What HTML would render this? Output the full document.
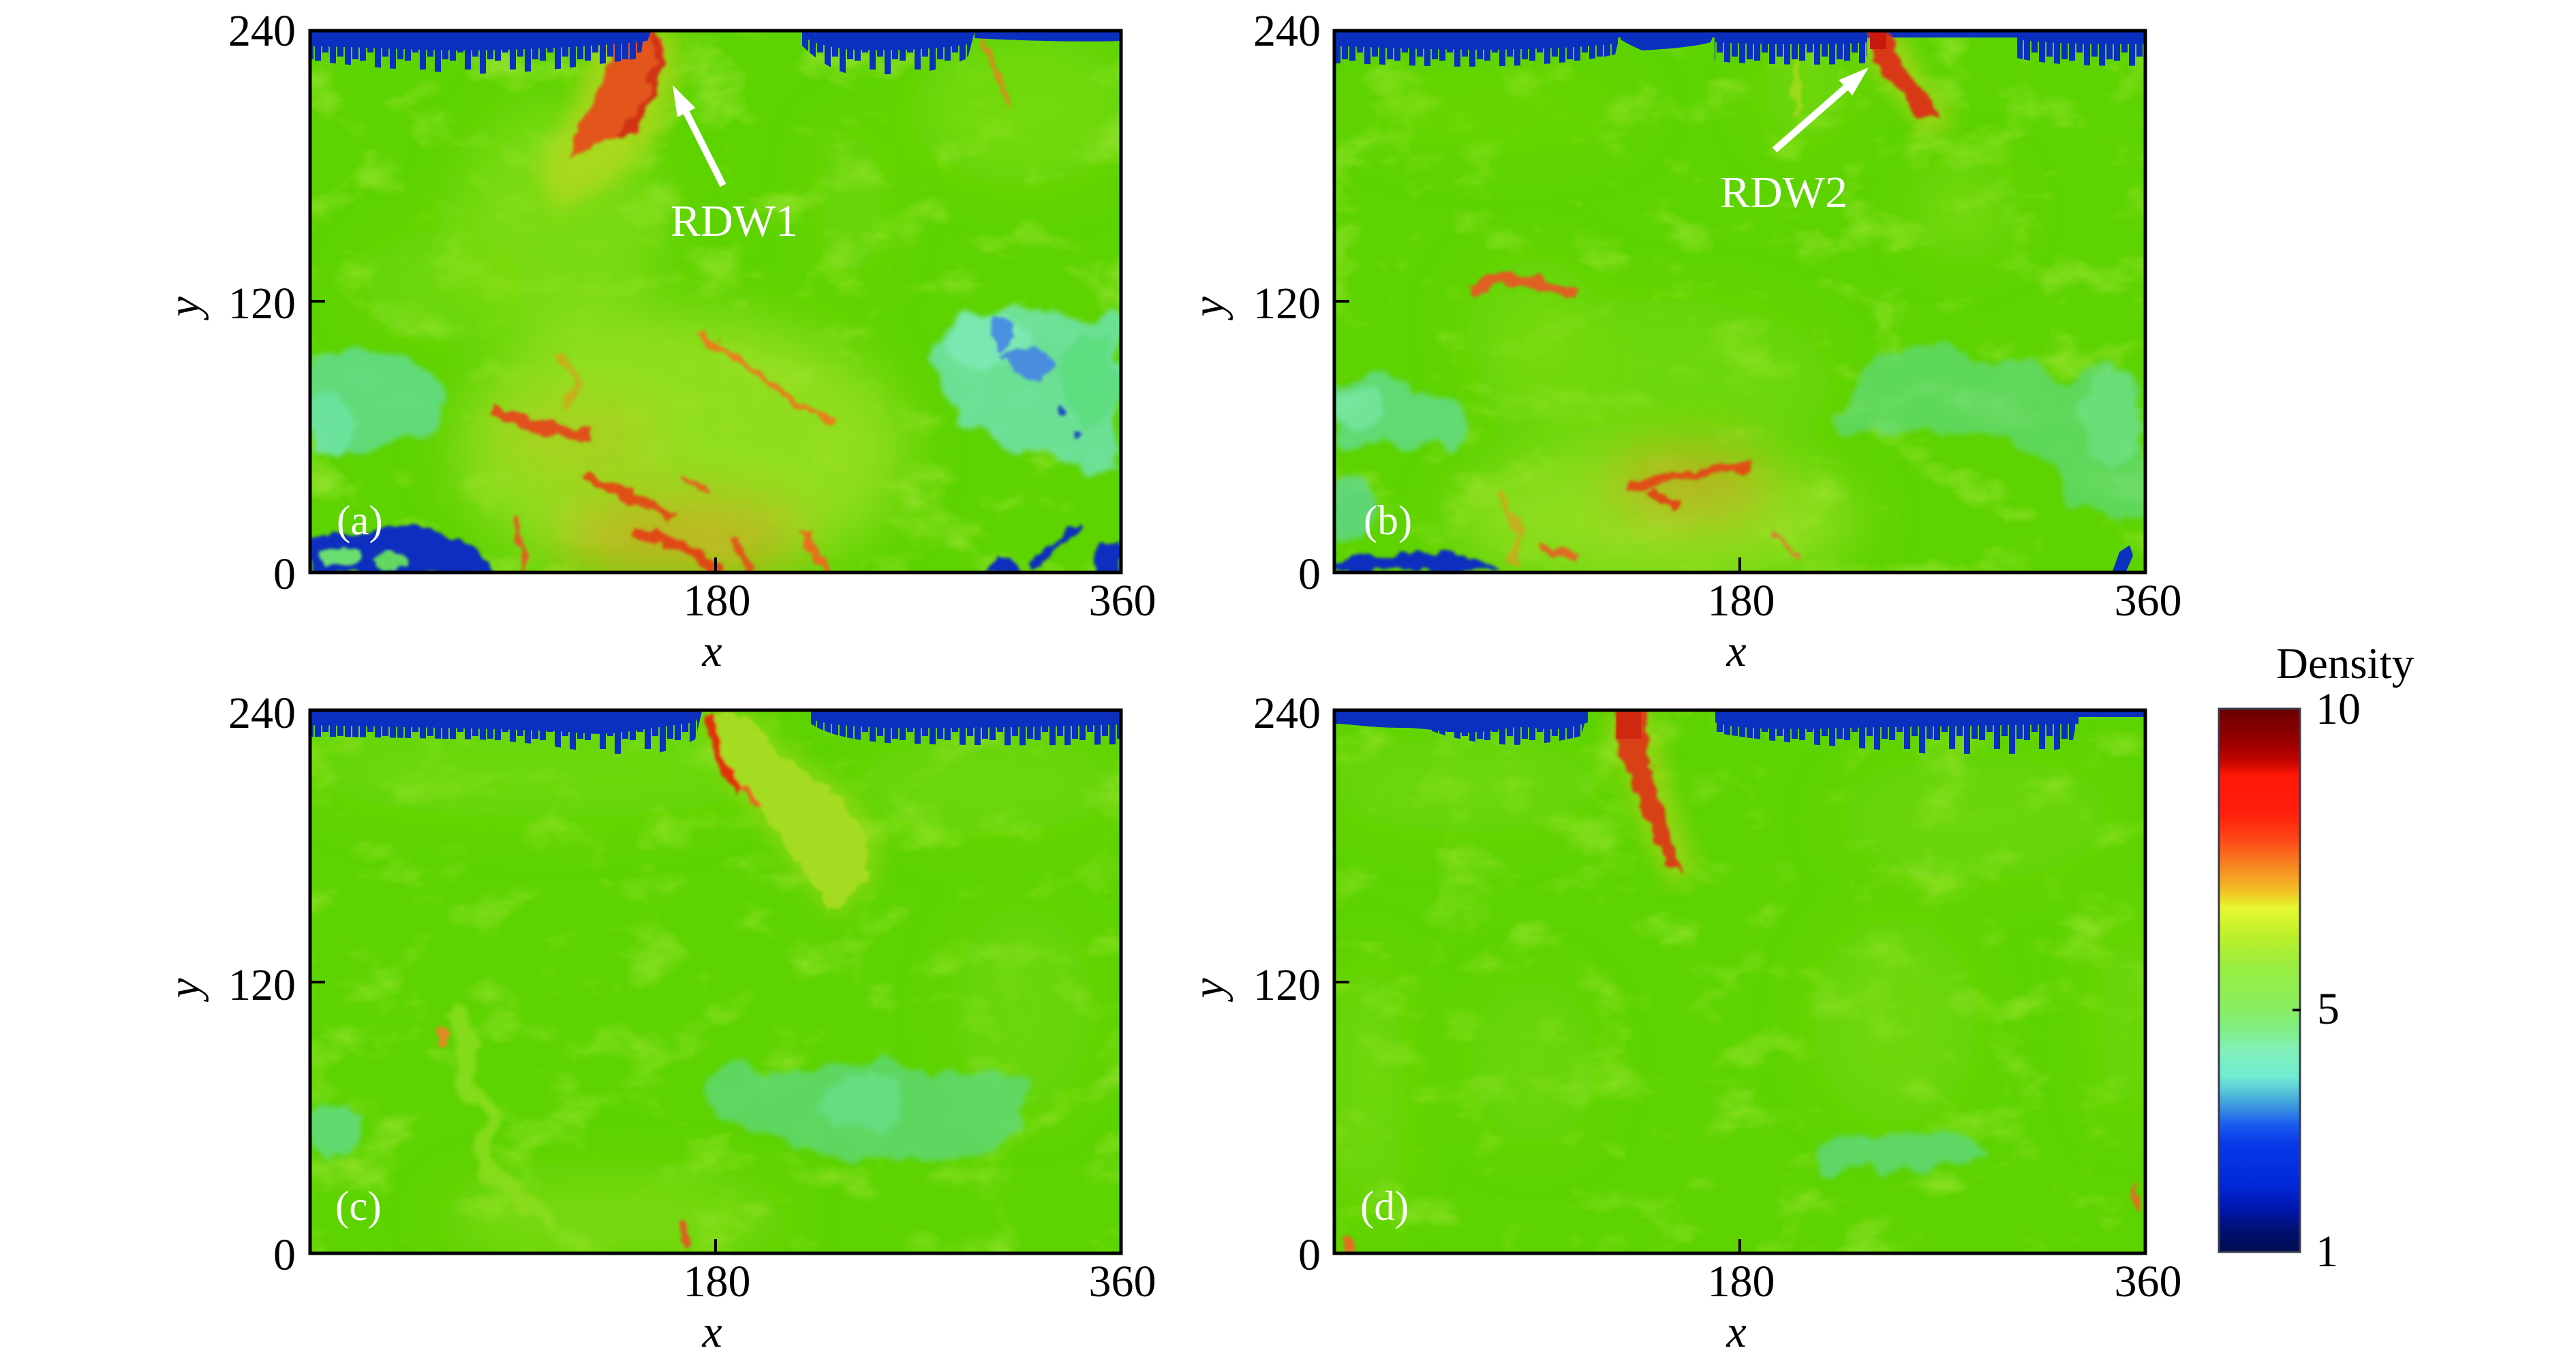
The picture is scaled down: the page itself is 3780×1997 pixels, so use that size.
<!DOCTYPE html>
<html><head><meta charset="utf-8"><title>Density fields</title>
<style>html,body{margin:0;padding:0;background:#fff;}svg{display:block;}</style>
</head><body>
<svg xmlns="http://www.w3.org/2000/svg" width="3780" height="1997" viewBox="0 0 3780 1997" font-family="'Liberation Serif', serif">
<defs>
  <clipPath id="cA"><rect x="457" y="47" width="1186" height="792"/></clipPath>
  <clipPath id="cB"><rect x="1960" y="47" width="1186" height="792"/></clipPath>
  <clipPath id="cC"><rect x="457" y="1044" width="1186" height="795"/></clipPath>
  <clipPath id="cD"><rect x="1960" y="1044" width="1186" height="795"/></clipPath>
  <filter id="b40" x="-50%" y="-50%" width="200%" height="200%"><feGaussianBlur stdDeviation="40"/></filter>
  <filter id="b15" x="-50%" y="-50%" width="200%" height="200%"><feGaussianBlur stdDeviation="15"/></filter>
  <filter id="b4" x="-50%" y="-50%" width="200%" height="200%"><feGaussianBlur stdDeviation="4"/></filter>
  <filter id="wisp" x="-20%" y="-20%" width="140%" height="140%">
    <feTurbulence type="fractalNoise" baseFrequency="0.018" numOctaves="3" seed="4" result="n"/>
    <feDisplacementMap in="SourceGraphic" in2="n" scale="55" xChannelSelector="R" yChannelSelector="G" result="d"/>
    <feGaussianBlur in="d" stdDeviation="4"/>
  </filter>
  <filter id="wisp2" x="-20%" y="-20%" width="140%" height="140%">
    <feTurbulence type="fractalNoise" baseFrequency="0.04" numOctaves="2" seed="9" result="n"/>
    <feDisplacementMap in="SourceGraphic" in2="n" scale="25" xChannelSelector="R" yChannelSelector="G" result="d"/>
    <feGaussianBlur in="d" stdDeviation="2"/>
  </filter>
  <filter id="mottle" x="0" y="0" width="100%" height="100%">
    <feTurbulence type="fractalNoise" baseFrequency="0.010 0.016" numOctaves="4" seed="2" result="t"/>
    <feColorMatrix in="t" type="matrix" values="0 0 0 0 0.56  0 0 0 0 0.88  0 0 0 0 0.10  3 0 0 0 -1.6"/>
  </filter>
  <pattern id="spkT" patternUnits="userSpaceOnUse" x="0" y="47" width="66" height="160">
    <rect x="0" width="9" height="42" fill="#0b2fbf"/><rect x="11" width="9" height="30" fill="#0b2fbf"/>
    <rect x="22" width="9" height="55" fill="#0b2fbf"/><rect x="33" width="9" height="36" fill="#0b2fbf"/>
    <rect x="44" width="9" height="62" fill="#0b2fbf"/><rect x="55" width="9" height="40" fill="#0b2fbf"/>
  </pattern>
  <pattern id="spkB" patternUnits="userSpaceOnUse" x="0" y="1044" width="66" height="160">
    <rect x="0" width="9" height="42" fill="#0b2fbf"/><rect x="11" width="9" height="30" fill="#0b2fbf"/>
    <rect x="22" width="9" height="55" fill="#0b2fbf"/><rect x="33" width="9" height="36" fill="#0b2fbf"/>
    <rect x="44" width="9" height="62" fill="#0b2fbf"/><rect x="55" width="9" height="40" fill="#0b2fbf"/>
  </pattern>
  <linearGradient id="cbar" x1="0" y1="0" x2="0" y2="1">
    <stop offset="0" stop-color="#6a0000"/><stop offset="0.063" stop-color="#9a0000"/>
    <stop offset="0.10" stop-color="#c80600"/><stop offset="0.122" stop-color="#ff1808"/>
    <stop offset="0.192" stop-color="#ff1e0c"/><stop offset="0.242" stop-color="#ff4818"/>
    <stop offset="0.292" stop-color="#f88a22"/><stop offset="0.335" stop-color="#f0c024"/>
    <stop offset="0.367" stop-color="#e6f830"/><stop offset="0.417" stop-color="#bcf02a"/>
    <stop offset="0.476" stop-color="#98ee40"/><stop offset="0.551" stop-color="#88ee60"/>
    <stop offset="0.585" stop-color="#80ee80"/><stop offset="0.627" stop-color="#84f0b8"/>
    <stop offset="0.677" stop-color="#70ecd0"/><stop offset="0.702" stop-color="#5ac8d8"/>
    <stop offset="0.736" stop-color="#3890e0"/><stop offset="0.768" stop-color="#1858ee"/>
    <stop offset="0.802" stop-color="#0838e8"/><stop offset="0.877" stop-color="#0028d8"/>
    <stop offset="0.919" stop-color="#0018b0"/><stop offset="0.962" stop-color="#001070"/>
    <stop offset="1" stop-color="#000c50"/>
  </linearGradient>
</defs>

<rect width="3780" height="1997" fill="#fff"/>

<!-- ================= PLOT A ================= -->
<g clip-path="url(#cA)">
  <rect x="457" y="47" width="1186" height="792" fill="#5dd300"/>
  <rect x="457" y="47" width="1186" height="792" filter="url(#mottle)" opacity="0.45"/>
  <g filter="url(#b40)">
    <ellipse cx="1500" cy="160" rx="160" ry="110" fill="#80de10" opacity="0.6"/>
    <ellipse cx="820" cy="330" rx="150" ry="180" fill="#8ade1a" opacity="0.65"/>
    <ellipse cx="1000" cy="660" rx="330" ry="200" fill="#9ee024" opacity="0.8"/>
    <ellipse cx="650" cy="420" rx="120" ry="80" fill="#7edc10" opacity="0.5"/>
    <ellipse cx="1250" cy="300" rx="45" ry="120" fill="#80dc14" opacity="0.5"/>
    <ellipse cx="1000" cy="790" rx="180" ry="60" fill="#d8a020" opacity="0.65"/>
    <ellipse cx="850" cy="640" rx="120" ry="50" fill="#c8c020" opacity="0.5"/>
  </g>
  <!-- cyan -->
  <g filter="url(#wisp)" opacity="0.85">
    <ellipse cx="540" cy="585" rx="110" ry="70" fill="#62dc90"/>
    <ellipse cx="480" cy="625" rx="40" ry="55" fill="#6ee4b8"/>
    <polygon points="1360,520 1400,470 1480,450 1560,470 1643,470 1643,690 1560,680 1480,660 1400,610 1370,560" fill="#6ee2b0"/>
    <ellipse cx="1450" cy="500" rx="60" ry="40" fill="#80ecd0"/>
    <ellipse cx="1600" cy="560" rx="40" ry="70" fill="#5ede98"/>
  </g>
  <g filter="url(#wisp2)">
    <path d="M1470,520 L1510,508 L1545,530 L1525,565 L1490,548Z" fill="#4a8ede"/>
    <ellipse cx="1470" cy="490" rx="14" ry="26" fill="#4a90e0"/>
    <ellipse cx="1560" cy="605" rx="6" ry="8" fill="#2050c0"/>
    <ellipse cx="1585" cy="640" rx="5" ry="7" fill="#2050c0"/>
  </g>
  <!-- wedge halo -->
  <polygon points="870,47 995,47 995,120 965,200 905,265 815,310 790,250 845,150" fill="#b8d820" opacity="0.75" filter="url(#b15)"/>
  <g filter="url(#wisp2)">
    <polygon points="900,47 968,47 975,80 960,140 930,190 880,215 830,232 845,200 875,140 895,90" fill="#e2561c"/>
    <polyline points="960,47 968,90 950,150 910,200" fill="none" stroke="#d23012" stroke-width="12"/>
    <polyline points="723,600 780,625 866,640" fill="none" stroke="#e0501a" stroke-width="18"/>
    <polyline points="1020,486 1100,540 1180,600 1225,621" fill="none" stroke="#e8801a" stroke-width="8"/>
    <polyline points="860,700 930,730 990,760" fill="none" stroke="#e05018" stroke-width="12"/>
    <polyline points="930,780 1000,800 1060,842" fill="none" stroke="#e04818" stroke-width="16"/>
    <polyline points="1080,790 1100,842" fill="none" stroke="#e05a1a" stroke-width="14"/>
    <polyline points="760,760 770,842" fill="none" stroke="#e06020" stroke-width="8"/>
    <polyline points="1180,780 1210,842" fill="none" stroke="#e8701a" stroke-width="12"/>
    <polyline points="1000,700 1040,720" fill="none" stroke="#e06a20" stroke-width="8"/>
    <polyline points="1440,50 1480,150" fill="none" stroke="#e88020" stroke-width="8" opacity="0.8"/>
    <polyline points="820,520 850,560 830,600" fill="none" stroke="#d8a020" stroke-width="10" opacity="0.7"/>
  </g>
  <!-- bottom blue -->
  <path d="M457,785 L520,783 C560,775 590,765 620,773 C660,785 700,800 733,842 L457,842 Z" fill="#0b2fbf" filter="url(#wisp2)"/>
  <ellipse cx="500" cy="818" rx="30" ry="14" fill="#6ade70" filter="url(#wisp2)"/>
  <ellipse cx="575" cy="822" rx="25" ry="12" fill="#62d860" filter="url(#wisp2)"/>
  <g fill="#0b2fbf" filter="url(#wisp2)">
    <path d="M1450,842 L1460,815 L1490,820 L1500,842Z"/>
    <polyline points="1585,770 1540,810 1510,830" fill="none" stroke="#0b2fbf" stroke-width="10"/>
    <path d="M1600,842 L1610,805 L1643,790 L1643,842Z"/>
  </g>
  <!-- top blue -->
  <path d="M457,47 H945 L940,85 C880,95 780,108 700,108 C600,105 520,95 457,90 Z" fill="url(#spkT)"/>
  <path d="M457,47 H955 L950,60 C900,66 800,72 700,74 C600,74 520,68 457,68 Z" fill="#0b2fbf"/>
  <path d="M1175,47 H1430 L1420,85 C1380,105 1320,115 1260,112 C1220,105 1195,85 1175,65 Z" fill="url(#spkT)"/>
  <path d="M1180,47 H1430 L1425,64 C1380,72 1300,76 1240,72 C1210,68 1190,62 1180,54 Z" fill="#0b2fbf"/>
  <path d="M1430,47 H1643 V60 C1600,62 1500,60 1430,56Z" fill="#0b2fbf"/>
</g>
<rect x="455" y="45" width="1190" height="795" fill="none" stroke="#000" stroke-width="5"/>
<line x1="457" y1="442" x2="477" y2="442" stroke="#000" stroke-width="4"/>
<line x1="1050" y1="838" x2="1050" y2="818" stroke="#000" stroke-width="4"/>
<polygon points="1065.5,269.8 1011.7,163.0 1020.6,158.5 987,125 993.8,171.9 1002.7,167.4 1056.5,274.2" fill="#fff"/>
<text x="984" y="346" font-size="66" fill="#fff">RDW1</text>
<text x="494" y="784" font-size="61" fill="#fff">(a)</text>

<!-- ================= PLOT B ================= -->
<g clip-path="url(#cB)">
  <rect x="1960" y="47" width="1186" height="792" fill="#5dd300"/>
  <rect x="1960" y="47" width="1186" height="792" filter="url(#mottle)" opacity="0.45"/>
  <g filter="url(#b40)">
    <ellipse cx="2650" cy="130" rx="60" ry="80" fill="#86de18" opacity="0.5"/>
    <ellipse cx="2880" cy="310" rx="60" ry="60" fill="#8ee020" opacity="0.6"/>
    <ellipse cx="2430" cy="560" rx="260" ry="120" fill="#7edc14" opacity="0.5"/>
    <ellipse cx="2430" cy="760" rx="300" ry="100" fill="#9ae026" opacity="0.8"/>
    <ellipse cx="2250" cy="480" rx="100" ry="100" fill="#80dc14" opacity="0.5"/>
    <ellipse cx="2480" cy="710" rx="120" ry="50" fill="#d0a020" opacity="0.7"/>
    <ellipse cx="2200" cy="160" rx="200" ry="60" fill="#78dc10" opacity="0.4"/>
  </g>
  <g filter="url(#wisp)" opacity="0.8">
    <polygon points="1960,560 2030,555 2100,570 2150,600 2140,650 2060,660 1990,650 1960,640" fill="#62dc90"/>
    <ellipse cx="1990" cy="600" rx="35" ry="25" fill="#78e8c0"/>
    <ellipse cx="1985" cy="740" rx="30" ry="50" fill="#60d890"/>
  </g>
  <g filter="url(#wisp)" opacity="0.65">
    <polygon points="2690,600 2740,540 2800,510 2880,515 2960,540 3020,550 3080,540 3146,560 3146,780 3100,760 3030,720 2990,660 2920,650 2840,640 2760,640 2700,630" fill="#60da8a"/>
    <ellipse cx="3100" cy="620" rx="50" ry="70" fill="#72e4b8"/>
  </g>
  <polygon points="2730,47 2790,47 2820,110 2870,180 2830,200 2780,140 2740,90" fill="#b8d820" opacity="0.7" filter="url(#b15)"/>
  <g filter="url(#wisp2)">
    <polyline points="2160,425 2200,410 2260,415 2310,432" fill="none" stroke="#e06020" stroke-width="18"/>
    <polyline points="2390,715 2450,700 2520,690 2570,685" fill="none" stroke="#e05018" stroke-width="14"/>
    <polyline points="2420,720 2460,745" fill="none" stroke="#e04818" stroke-width="12"/>
    <polyline points="2256,805 2317,815" fill="none" stroke="#e06a20" stroke-width="10"/>
    <polyline points="2600,780 2640,820" fill="none" stroke="#e08030" stroke-width="6"/>
    <polyline points="2634,81 2640,173" fill="none" stroke="#c0d828" stroke-width="10" opacity="0.6"/>
    <polyline points="2200,720 2230,780 2220,830" fill="none" stroke="#d8a020" stroke-width="10" opacity="0.7"/>
  </g>
  <!-- bottom blue -->
  <path d="M1960,838 L1960,826 C2000,818 2040,810 2080,810 C2130,810 2170,816 2202,838 Z" fill="#0b2fbf" filter="url(#wisp2)"/>
  <path d="M3100,838 L3110,810 L3125,800 L3130,815 L3120,838Z" fill="#0b2fbf"/>
  <!-- top -->
  <path d="M1960,47 H3146 V55 H1960Z" fill="#0b2fbf"/>
  <path d="M1960,47 H2378 L2370,80 C2300,95 2200,100 2100,97 C2030,95 1990,93 1960,93Z" fill="url(#spkT)"/>
  <path d="M1960,47 H2378 L2370,64 C2300,72 2200,74 2100,72 C2030,70 1990,68 1960,68Z" fill="#0b2fbf"/>
  <path d="M2378,47 H2516 L2510,62 C2480,70 2440,72 2410,74 C2395,68 2385,62 2378,58Z" fill="#0b2fbf"/>
  <path d="M2516,47 H2740 V92 C2700,96 2600,96 2516,90Z" fill="url(#spkT)"/>
  <path d="M2516,47 H2740 V62 C2700,66 2600,66 2516,62Z" fill="#0b2fbf"/>
  <path d="M2960,47 H3146 V96 C3100,98 3000,96 2960,85Z" fill="url(#spkT)"/>
  <path d="M2960,47 H3146 V64 C3100,66 3000,64 2960,58Z" fill="#0b2fbf"/>
  <g filter="url(#wisp2)">
    <polygon points="2740,47 2772,47 2790,95 2825,140 2845,172 2815,168 2780,125 2752,90 2742,60" fill="#d83818"/>
  </g>
  <rect x="2744" y="47" width="24" height="25" fill="#c81810"/>
</g>
<rect x="1958" y="45" width="1190" height="795" fill="none" stroke="#000" stroke-width="5"/>
<line x1="1960" y1="442" x2="1980" y2="442" stroke="#000" stroke-width="4"/>
<line x1="2553" y1="838" x2="2553" y2="818" stroke="#000" stroke-width="4"/>
<polygon points="2607.3,223.8 2711.5,132.5 2718.1,140.0 2742,99 2698.3,117.4 2704.9,124.9 2600.7,216.2" fill="#fff"/>
<text x="2524" y="304" font-size="66" fill="#fff">RDW2</text>
<text x="2001" y="784" font-size="61" fill="#fff">(b)</text>

<!-- ================= PLOT C ================= -->
<g clip-path="url(#cC)">
  <rect x="457" y="1044" width="1186" height="795" fill="#5dd300"/>
  <rect x="457" y="1044" width="1186" height="795" filter="url(#mottle)" opacity="0.4"/>
  <g filter="url(#b40)">
    <ellipse cx="800" cy="1130" rx="350" ry="70" fill="#7ede10" opacity="0.5"/>
    <ellipse cx="1450" cy="1150" rx="200" ry="70" fill="#7edc10" opacity="0.5"/>
    <ellipse cx="900" cy="1790" rx="250" ry="60" fill="#8ede20" opacity="0.6"/>
    <ellipse cx="1500" cy="1480" rx="100" ry="150" fill="#7edc14" opacity="0.4"/>
  </g>
  <g filter="url(#wisp)" opacity="0.8">
    <polygon points="1030,1600 1080,1560 1150,1570 1220,1560 1260,1570 1300,1560 1370,1580 1440,1570 1510,1580 1500,1650 1450,1700 1380,1690 1300,1700 1220,1690 1120,1660 1060,1640" fill="#5ed878"/>
    <ellipse cx="1260" cy="1620" rx="60" ry="40" fill="#68e0a0"/>
    <ellipse cx="490" cy="1660" rx="40" ry="40" fill="#62dc8a"/>
    <polyline points="650,1480 700,1520 680,1580 720,1640 700,1700 760,1760 820,1800" fill="none" stroke="#8ede20" stroke-width="25"/>
  </g>
  <polygon points="1020,1044 1100,1044 1160,1100 1250,1160 1295,1230 1285,1300 1225,1350 1180,1300 1120,1220 1060,1140" fill="#a8dc24" opacity="0.5" filter="url(#b15)"/>
  <g filter="url(#wisp2)">
    <polygon points="1035,1047 1090,1047 1150,1110 1230,1170 1275,1230 1270,1290 1220,1335 1195,1300 1140,1220 1090,1160 1055,1110" fill="#a8dc24" opacity="0.9"/>
    <polyline points="1040,1047 1050,1090 1065,1130 1085,1160" fill="none" stroke="#e03010" stroke-width="14"/>
    <polyline points="1090,1155 1110,1180" fill="none" stroke="#e07020" stroke-width="10"/>
    <polyline points="1000,1790 1010,1837" fill="none" stroke="#e06020" stroke-width="10"/>
    <ellipse cx="650" cy="1520" rx="8" ry="12" fill="#e08a20"/>
  </g>
  <path d="M457,1044 H1030 L1020,1085 C980,1105 940,1112 900,1110 C840,1100 800,1090 700,1085 C600,1083 520,1081 457,1081Z" fill="url(#spkB)"/>
  <path d="M457,1044 H1030 L1020,1060 C950,1068 900,1080 860,1076 C800,1070 650,1068 457,1064Z" fill="#0b2fbf"/>
  <path d="M1190,1044 H1643 V1092 C1550,1094 1400,1094 1300,1090 C1240,1085 1210,1075 1190,1062Z" fill="url(#spkB)"/>
  <path d="M1190,1044 H1643 V1063 C1550,1066 1400,1069 1300,1068 C1240,1065 1210,1063 1190,1055Z" fill="#0b2fbf"/>
</g>
<rect x="455" y="1042" width="1190" height="797" fill="none" stroke="#000" stroke-width="5"/>
<line x1="457" y1="1441" x2="477" y2="1441" stroke="#000" stroke-width="4"/>
<line x1="1050" y1="1838" x2="1050" y2="1818" stroke="#000" stroke-width="4"/>
<text x="492" y="1790" font-size="61" fill="#fff">(c)</text>

<!-- ================= PLOT D ================= -->
<g clip-path="url(#cD)">
  <rect x="1960" y="1044" width="1186" height="795" fill="#5dd300"/>
  <rect x="1960" y="1044" width="1186" height="795" filter="url(#mottle)" opacity="0.4"/>
  <g filter="url(#b40)">
    <ellipse cx="2150" cy="1150" rx="200" ry="70" fill="#7edc10" opacity="0.5"/>
    <ellipse cx="2900" cy="1200" rx="200" ry="90" fill="#80dc14" opacity="0.4"/>
    <ellipse cx="2010" cy="1600" rx="50" ry="200" fill="#86de1a" opacity="0.5"/>
    <ellipse cx="2780" cy="1500" rx="120" ry="150" fill="#80dc14" opacity="0.5"/>
    <ellipse cx="3120" cy="1500" rx="40" ry="150" fill="#86de1a" opacity="0.5"/>
    <ellipse cx="2250" cy="1560" rx="90" ry="120" fill="#80dc14" opacity="0.4"/>
  </g>
  <polygon points="2355,1044 2425,1044 2450,1150 2490,1280 2450,1300 2400,1200" fill="#b8d820" opacity="0.6" filter="url(#b15)"/>
  <g filter="url(#wisp)" opacity="0.8">
    <ellipse cx="2800" cy="1690" rx="120" ry="30" fill="#5ed880"/>
    <ellipse cx="2690" cy="1705" rx="30" ry="20" fill="#5ed880"/>
  </g>
  <g filter="url(#wisp2)">
    <polygon points="2368,1044 2412,1044 2420,1100 2430,1160 2450,1220 2465,1280 2445,1270 2420,1210 2395,1150 2375,1100" fill="#d84018"/>
    <ellipse cx="1980" cy="1825" rx="8" ry="12" fill="#e07020"/>
    <ellipse cx="3135" cy="1760" rx="6" ry="20" fill="#e07020"/>
  </g>
  <rect x="2372" y="1044" width="36" height="40" fill="#d02810"/>
  <path d="M2100,1044 H2330 L2320,1080 C2280,1090 2240,1095 2200,1092 C2150,1088 2120,1080 2100,1072Z" fill="url(#spkB)"/>
  <path d="M1960,1044 H2330 V1060 C2300,1070 2280,1072 2250,1068 C2220,1064 2200,1072 2170,1074 C2130,1078 2100,1068 2060,1068 C2010,1068 1980,1062 1960,1062Z" fill="#0b2fbf"/>
  <path d="M2517,1044 H3050 L3040,1095 C2980,1110 2900,1112 2820,1105 C2700,1095 2600,1090 2517,1075Z" fill="url(#spkB)"/>
  <path d="M2517,1044 H3050 V1062 C2950,1064 2800,1066 2700,1068 C2600,1072 2540,1068 2517,1060Z" fill="#0b2fbf"/>
  <path d="M3050,1044 H3146 V1052 H3050Z" fill="#0b2fbf"/>
</g>
<rect x="1958" y="1042" width="1190" height="797" fill="none" stroke="#000" stroke-width="5"/>
<line x1="1960" y1="1441" x2="1980" y2="1441" stroke="#000" stroke-width="4"/>
<line x1="2553" y1="1838" x2="2553" y2="1818" stroke="#000" stroke-width="4"/>
<text x="1996" y="1790" font-size="61" fill="#fff">(d)</text>

<!-- ================= AXIS LABELS ================= -->
<g font-size="66" fill="#000">
  <text x="434" y="67" text-anchor="end">240</text>
  <text x="434" y="467" text-anchor="end">120</text>
  <text x="434" y="864" text-anchor="end">0</text>
  <text x="1938" y="67" text-anchor="end">240</text>
  <text x="1938" y="467" text-anchor="end">120</text>
  <text x="1938" y="864" text-anchor="end">0</text>
  <text x="434" y="1068" text-anchor="end">240</text>
  <text x="434" y="1467" text-anchor="end">120</text>
  <text x="434" y="1863" text-anchor="end">0</text>
  <text x="1938" y="1068" text-anchor="end">240</text>
  <text x="1938" y="1467" text-anchor="end">120</text>
  <text x="1938" y="1863" text-anchor="end">0</text>
  <text x="1052" y="903" text-anchor="middle">180</text>
  <text x="1647" y="903" text-anchor="middle">360</text>
  <text x="2555" y="903" text-anchor="middle">180</text>
  <text x="3152" y="903" text-anchor="middle">360</text>
  <text x="1052" y="1902" text-anchor="middle">180</text>
  <text x="1647" y="1902" text-anchor="middle">360</text>
  <text x="2555" y="1902" text-anchor="middle">180</text>
  <text x="3152" y="1902" text-anchor="middle">360</text>
  <g font-style="italic">
    <text x="1045" y="977" text-anchor="middle">x</text>
    <text x="2548" y="977" text-anchor="middle">x</text>
    <text x="1045" y="1976" text-anchor="middle">x</text>
    <text x="2548" y="1976" text-anchor="middle">x</text>
    <text transform="translate(292,450) rotate(-90)" text-anchor="middle">y</text>
    <text transform="translate(1795,450) rotate(-90)" text-anchor="middle">y</text>
    <text transform="translate(292,1450) rotate(-90)" text-anchor="middle">y</text>
    <text transform="translate(1795,1450) rotate(-90)" text-anchor="middle">y</text>
  </g>
</g>

<!-- ================= COLORBAR ================= -->
<rect x="3256" y="1040" width="119" height="797" fill="url(#cbar)" stroke="#3a3a4a" stroke-width="3"/>
<line x1="3364" y1="1482" x2="3376" y2="1482" stroke="#000" stroke-width="4"/>
<text x="3340" y="995" font-size="65" fill="#000">Density</text>
<text x="3398" y="1062" font-size="66" fill="#000">10</text>
<text x="3400" y="1502" font-size="66" fill="#000">5</text>
<text x="3398" y="1858" font-size="66" fill="#000">1</text>
</svg>
</body></html>
